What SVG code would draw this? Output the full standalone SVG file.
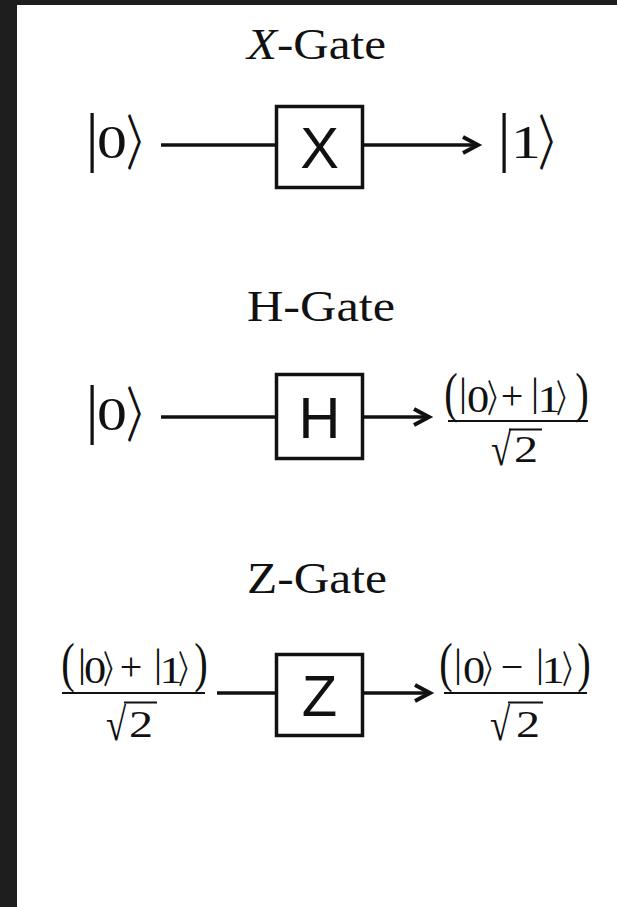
<svg xmlns="http://www.w3.org/2000/svg" width="617" height="907" viewBox="0 0 617 907">
<style>
.bg{fill:#ffffff}
.frame{fill:#1e1e1e}
.title{font-family:"Liberation Serif","DejaVu Serif",serif;font-size:45px;fill:#111;text-anchor:middle}
.m{font-family:"Liberation Serif","DejaVu Serif",serif;fill:#111;text-anchor:middle}
.ang{font-family:"Noto Sans CJK SC","Noto Sans CJK JP","DejaVu Sans",sans-serif;fill:#111;text-anchor:middle}
.kb{font-size:66px}
.kd{font-size:46px}
.ka{font-size:60px}
.nb{font-size:40px}
.na{font-size:38px}
.nd{font-size:37px}
.no{font-size:40px}
.np{font-size:54px}
.rad{font-size:46px}
.dd{font-size:37px}
.box{fill:#fff;stroke:#111;stroke-width:3.5}
.lbl{font-family:"Liberation Sans",Arial,sans-serif;font-size:58px;fill:#111;text-anchor:middle}
.wire{stroke:#111;stroke-width:3.3;fill:none}
.head{stroke:#111;stroke-width:4;fill:none;stroke-linejoin:miter;stroke-linecap:butt}
.rule{stroke:#111;stroke-width:2}
</style>
<rect class="bg" x="0" y="0" width="617" height="907"/>
<rect class="frame" x="0" y="0" width="17" height="907"/>
<rect class="frame" x="0" y="0" width="617" height="5"/>

<g id="titles">
<text id="title-x" class="title" x="316.5" y="59" textLength="139" lengthAdjust="spacingAndGlyphs"><tspan font-style="italic">X</tspan>-Gate</text>
<text id="title-h" class="title" x="321" y="321" textLength="148" lengthAdjust="spacingAndGlyphs">H-Gate</text>
<text id="title-z" class="title" x="317" y="593" textLength="140" lengthAdjust="spacingAndGlyphs">Z-Gate</text>
</g>

<g id="connectors">
<line class="wire" x1="161" y1="145" x2="277" y2="145"/>
<line class="wire" x1="363" y1="145" x2="476" y2="145"/>
<path class="head" d="M463,137 L478,145 L463,153"/>
<line class="wire" x1="161" y1="417" x2="277" y2="417"/>
<line class="wire" x1="363" y1="417" x2="427" y2="417"/>
<path class="head" d="M414,409 L429,417 L414,425"/>
<line class="wire" x1="217" y1="693" x2="277" y2="693"/>
<line class="wire" x1="363" y1="693" x2="428" y2="693"/>
<path class="head" d="M415,685 L430,693 L415,701"/>
</g>

<g id="x-in">
<text class="m kb" transform="translate(92,159)">|</text>
<text class="m kd" transform="translate(112,158) scale(1.3,1)">0</text>
<text class="ang ka" transform="translate(144,165) scale(0.6,1)">〉</text>
</g>
<g id="x-gate">
<rect class="box" x="276.5" y="106.5" width="86" height="81"/>
<text class="lbl" x="319.5" y="168">X</text>
</g>
<g id="x-out">
<text class="m kb" transform="translate(504,159)">|</text>
<text class="m kd" transform="translate(526,158) scale(1.3,1)">1</text>
<text class="ang ka" transform="translate(556,165) scale(0.6,1)">〉</text>
</g>

<g id="h-in">
<text class="m kb" transform="translate(92,431)">|</text>
<text class="m kd" transform="translate(112,430) scale(1.3,1)">0</text>
<text class="ang ka" transform="translate(144,437) scale(0.6,1)">〉</text>
</g>
<g id="h-gate">
<rect class="box" x="276.5" y="374.5" width="86" height="84"/>
<text class="lbl" x="319.5" y="437.5">H</text>
</g>
<g id="h-out">
<text class="m np" transform="translate(451,410.5) scale(0.75,1)">(</text>
<text class="m nb" transform="translate(463,405)">|</text>
<text class="m nd" transform="translate(478,412) scale(1.2,1)">0</text>
<text class="ang na" transform="translate(498.5,412) scale(0.6,1)">〉</text>
<text class="m no" transform="translate(512,409)">+</text>
<text class="m nb" transform="translate(535,405)">|</text>
<text class="m nd" transform="translate(549,412) scale(1.25,1)">1</text>
<text class="ang na" transform="translate(567.5,412) scale(0.6,1)">〉</text>
<text class="m np" transform="translate(582,410.5) scale(0.75,1)">)</text>
<line class="rule" x1="448" y1="421" x2="588" y2="421"/>
<text class="m rad" transform="translate(501,465) scale(0.8,1)">√</text>
<text class="m dd" transform="translate(526,462) scale(1.3,1)">2</text>
<line class="rule" x1="509" y1="429.5" x2="542" y2="429.5"/>
</g>

<g id="z-in">
<text class="m np" transform="translate(68,680.5) scale(0.75,1)">(</text>
<text class="m nb" transform="translate(82,676)">|</text>
<text class="m nd" transform="translate(95,683) scale(1.2,1)">0</text>
<text class="ang na" transform="translate(114.5,683) scale(0.6,1)">〉</text>
<text class="m no" transform="translate(131,680)">+</text>
<text class="m nb" transform="translate(158,676)">|</text>
<text class="m nd" transform="translate(171,683) scale(1.25,1)">1</text>
<text class="ang na" transform="translate(189.5,683) scale(0.6,1)">〉</text>
<text class="m np" transform="translate(201,680.5) scale(0.75,1)">)</text>
<line class="rule" x1="62" y1="693" x2="205" y2="693"/>
<text class="m rad" transform="translate(116,740) scale(0.8,1)">√</text>
<text class="m dd" transform="translate(141,737) scale(1.3,1)">2</text>
<line class="rule" x1="124" y1="702.5" x2="157" y2="702.5"/>
</g>
<g id="z-gate">
<rect class="box" x="276.5" y="654.5" width="86" height="81"/>
<text class="lbl" x="319.5" y="716">Z</text>
</g>
<g id="z-out">
<text class="m np" transform="translate(446,680.5) scale(0.75,1)">(</text>
<text class="m nb" transform="translate(458,676)">|</text>
<text class="m nd" transform="translate(474,683) scale(1.2,1)">0</text>
<text class="ang na" transform="translate(493.5,683) scale(0.6,1)">〉</text>
<text class="m no" transform="translate(512,680)">−</text>
<text class="m nb" transform="translate(540,676)">|</text>
<text class="m nd" transform="translate(553,683) scale(1.25,1)">1</text>
<text class="ang na" transform="translate(573.5,683) scale(0.6,1)">〉</text>
<text class="m np" transform="translate(584,680.5) scale(0.75,1)">)</text>
<line class="rule" x1="444" y1="693" x2="587" y2="693"/>
<text class="m rad" transform="translate(500,740) scale(0.8,1)">√</text>
<text class="m dd" transform="translate(528,737) scale(1.3,1)">2</text>
<line class="rule" x1="508" y1="702.5" x2="543" y2="702.5"/>
</g>
</svg>
